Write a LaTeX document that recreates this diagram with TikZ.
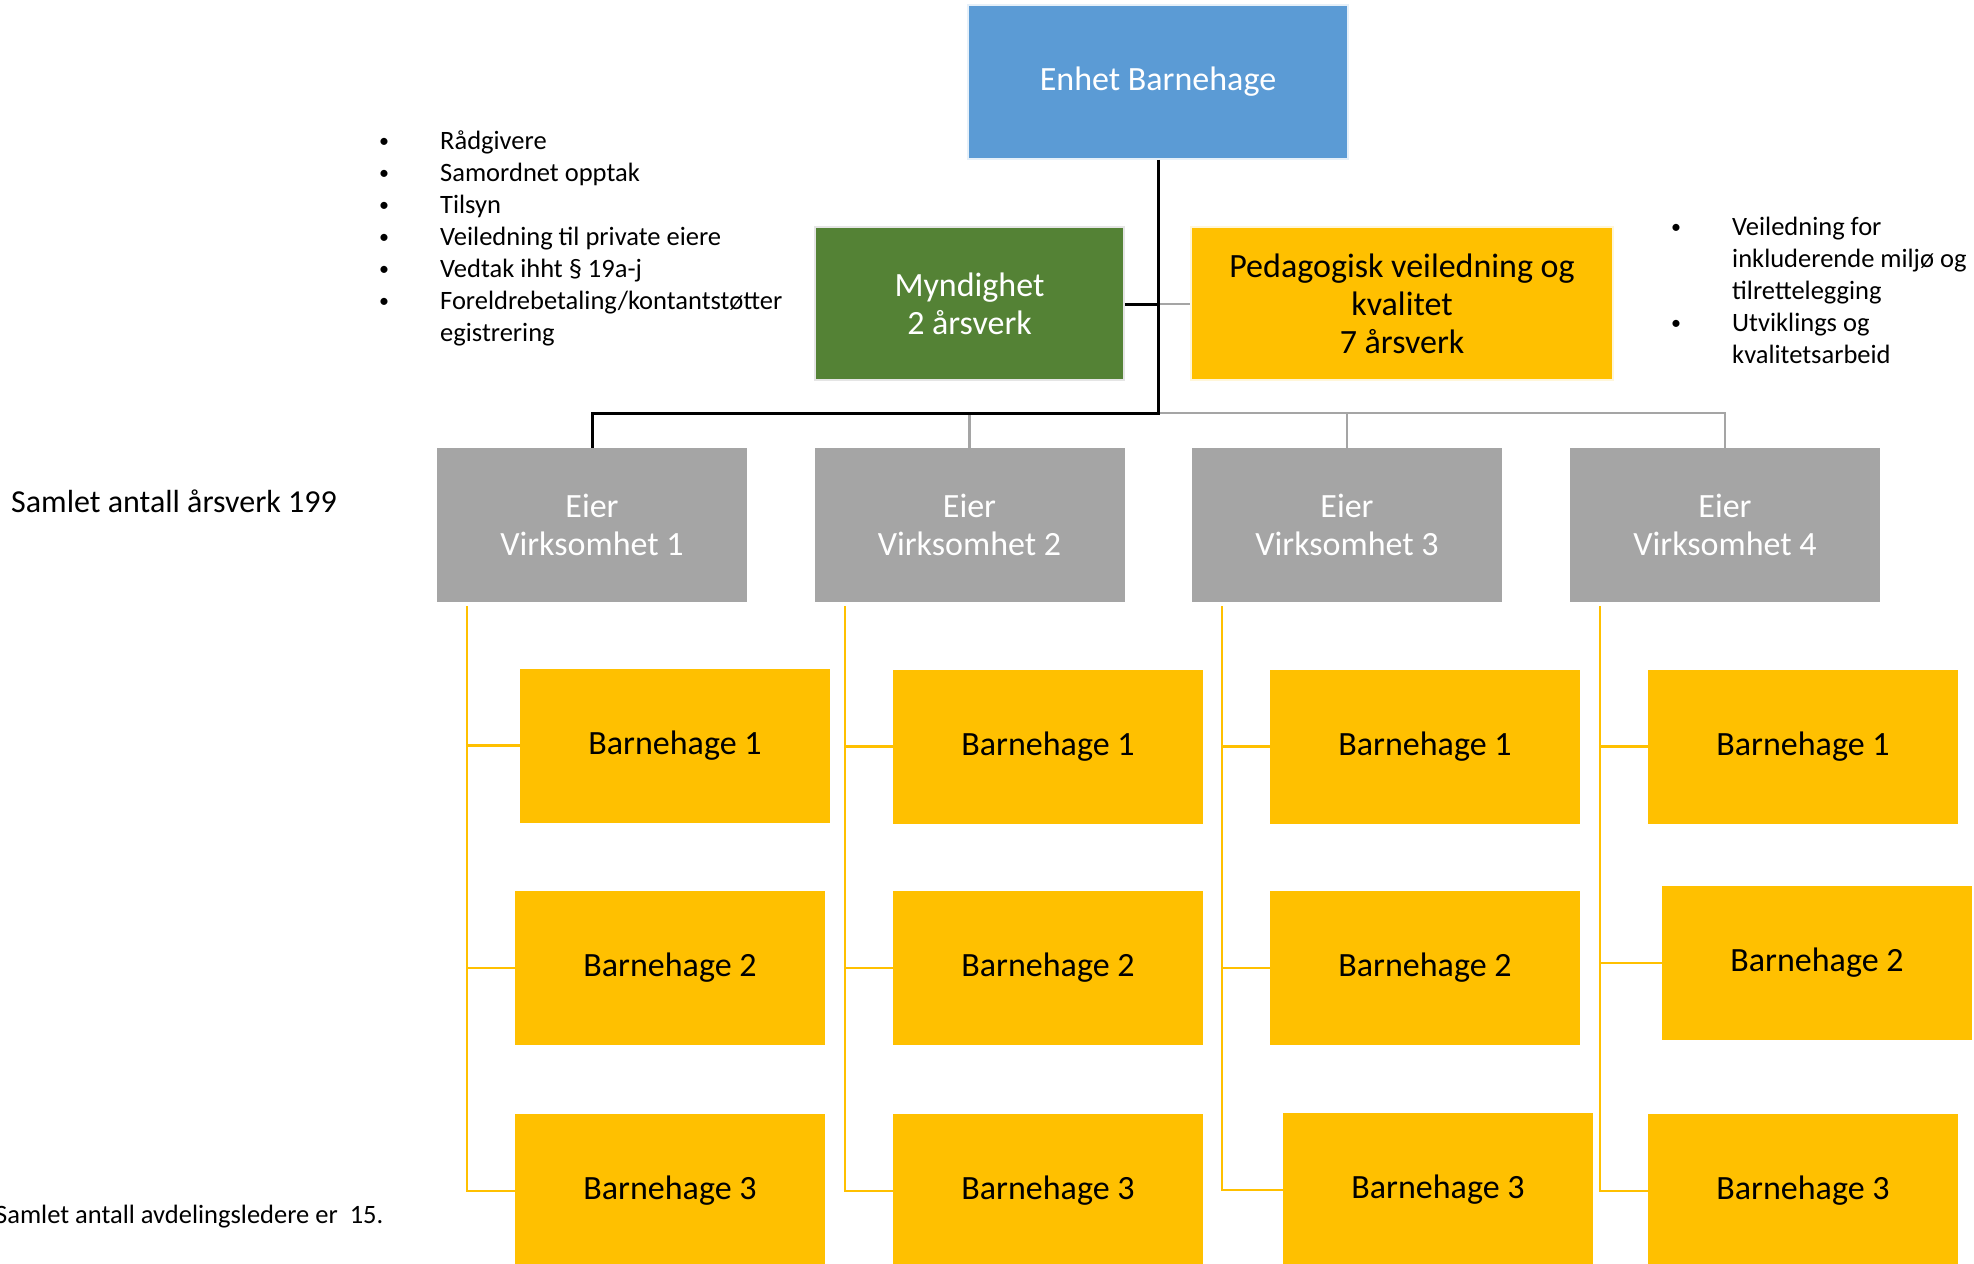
\documentclass[tikz,border=0pt]{standalone}
\usepackage{fontspec}
\setmainfont{Carlito}
\definecolor{cblue}{HTML}{5B9BD5}
\definecolor{cgreen}{HTML}{548235}
\definecolor{cyel}{HTML}{FFC000}
\definecolor{cgray}{HTML}{A5A5A5}
\definecolor{cline}{HTML}{A5A5A5}
\newcommand\mybul{\makebox[26pt][c]{\raisebox{1.5pt}{\fontsize{20}{32}\selectfont•}}}
\begin{document}
\begin{tikzpicture}[x=1pt,y=-1pt,
  box/.style={rectangle, inner sep=0pt, align=center, minimum width=310pt, minimum height=154pt},
  bigtxt/.style={font=\fontsize{34}{38}\selectfont},
  eierbox/.style={box, fill=cgray, text=white, bigtxt},
  bhbox/.style={box, fill=cyel, text=black, bigtxt},
  blackline/.style={draw=black, line width=3pt},
  grayline/.style={draw=cline, line width=2.6pt},
  yelline/.style={draw=cyel, line width=2.6pt},
  listtxt/.style={inner sep=0pt, anchor=base west, font=\fontsize{26.5}{32}\selectfont}]
\useasboundingbox (0,0) rectangle (1974,1264);

% top level
\node[box, fill=cblue, draw=white!85!cblue, line width=1.5pt, text=white, minimum width=380pt, bigtxt] (enhet) at (1158,82) {Enhet Barnehage};
\node[box, fill=cgreen, draw=white!80!gray, line width=2pt, text=white, minimum width=309pt, minimum height=153pt, bigtxt] (mynd) at (969.5,303.5) {Myndighet\\2 årsverk};
\node[box, fill=cyel, draw=white!85!cyel, line width=2pt, minimum width=422pt, minimum height=153pt, bigtxt] (ped) at (1402,303.5) {Pedagogisk veiledning og\\kvalitet\\7 årsverk};

% eier
\node[eierbox] (e1) at (592,525) {Eier\\Virksomhet 1};
\node[eierbox] (e2) at (969.5,525) {Eier\\Virksomhet 2};
\node[eierbox] (e3) at (1347,525) {Eier\\Virksomhet 3};
\node[eierbox] (e4) at (1725,525) {Eier\\Virksomhet 4};

% barnehager
\node[bhbox] (b11) at (675,745.5) {Barnehage 1};
\node[bhbox] (b12) at (670,968) {Barnehage 2};
\node[bhbox] (b13) at (670,1191) {Barnehage 3};
\node[bhbox] (b21) at (1048,746.5) {Barnehage 1};
\node[bhbox] (b22) at (1048,968) {Barnehage 2};
\node[bhbox] (b23) at (1048,1191) {Barnehage 3};
\node[bhbox] (b31) at (1425,746.5) {Barnehage 1};
\node[bhbox] (b32) at (1425,968) {Barnehage 2};
\node[bhbox] (b33) at (1438,1190) {Barnehage 3};
\node[bhbox] (b41) at (1803,746.5) {Barnehage 1};
\node[bhbox] (b42) at (1817,963) {Barnehage 2};
\node[bhbox] (b43) at (1803,1191) {Barnehage 3};

% connectors top
\coordinate (trunk) at (1158,413);
\coordinate (mid) at (1158,304);
\draw[grayline] (mid) -- (ped.west |- mid);
\draw[grayline] (trunk) -| (e4.north);
\draw[grayline] (trunk -| e2.north) -- (e2.north);
\draw[grayline] (trunk -| e3.north) -- (e3.north);
\draw[blackline] (enhet.south) -- (trunk) -| (e1.north);
\draw[blackline] (mynd.east |- mid) -- (mid);

% yellow connectors
\coordinate (y1) at (467,606);
\coordinate (y2) at (845,606);
\coordinate (y3) at (1222,606);
\coordinate (y4) at (1600,606);
\draw[yelline] (y1) |- (b13.west);
\draw[yelline] (y1 |- b11.west) -- (b11.west);
\draw[yelline] (y1 |- b12.west) -- (b12.west);
\draw[yelline] (y2) |- (b23.west);
\draw[yelline] (y2 |- b21.west) -- (b21.west);
\draw[yelline] (y2 |- b22.west) -- (b22.west);
\draw[yelline] (y3) |- (b33.west);
\draw[yelline] (y3 |- b31.west) -- (b31.west);
\draw[yelline] (y3 |- b32.west) -- (b32.west);
\draw[yelline] (y4) |- (b43.west);
\draw[yelline] (y4 |- b41.west) -- (b41.west);
\draw[yelline] (y4 |- b42.west) -- (b42.west);

% texts
\node[listtxt] (leftlist) at (371,149) {\begin{tabular}[t]{@{}p{69pt}@{}l@{}}
\mybul&Rådgivere\\
\mybul&Samordnet opptak\\
\mybul&Tilsyn\\
\mybul&Veiledning til private eiere\\
\mybul&Vedtak ihht § 19a-j\\
\mybul&Foreldrebetaling/kontantstøtter\\
&egistrering
\end{tabular}};
\node[listtxt] (rightlist) at (1663,235) {\begin{tabular}[t]{@{}p{69pt}@{}l@{}}
\mybul&Veiledning for\\
&inkluderende miljø og\\
&tilrettelegging\\
\mybul&Utviklings og\\
&kvalitetsarbeid
\end{tabular}};
\node[inner sep=0pt, anchor=base west, font=\fontsize{32}{38}\selectfont] (total) at (11,512) {Samlet antall årsverk 199};
\node[inner sep=0pt, anchor=base west, font=\fontsize{26.5}{32}\selectfont] (avd) at (-5,1223) {Samlet antall avdelingsledere er\ \ 15.};
\end{tikzpicture}
\end{document}
